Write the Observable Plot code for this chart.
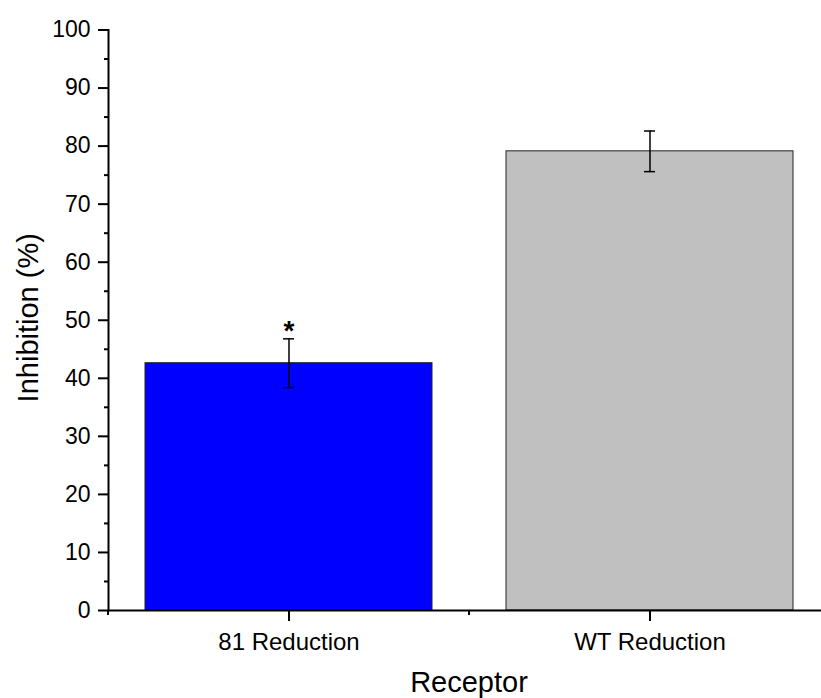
<!DOCTYPE html>
<html>
<head>
<meta charset="utf-8">
<script src="https://cdn.jsdelivr.net/npm/d3@7"></script>
<script src="https://cdn.jsdelivr.net/npm/@observablehq/plot@0.6"></script>
<style>
  html, body { margin: 0; padding: 0; background: #fff; overflow: hidden; }
  #chart svg { display: block; overflow: hidden; }
</style>
</head>
<body>
<div id="chart"></div>
<script>
// ---- data ----
const categories = ["81 Reduction", "WT Reduction"];
const values = [42.6, 79.1];
const errors = [4.2, 3.5];
const barColors = ["#0000ff", "#c0c0c0"];
const significance = ["*", ""];
const yTicks = [0, 10, 20, 30, 40, 50, 60, 70, 80, 90, 100];
const yMinorTicks = [5, 15, 25, 35, 45, 55, 65, 75, 85, 95];
const xLabel = "Receptor";
const yLabel = "Inhibition (%)";

const data = categories.map((c, i) => ({
  cat: c, value: values[i], err: errors[i], color: barColors[i], sig: significance[i]
}));

const font = "'Liberation Sans', Arial, sans-serif";

const chart = Plot.plot({
  width: 821,
  height: 698,
  marginLeft: 108,
  marginRight: 0,
  marginTop: 29.5,
  marginBottom: 88,
  style: { fontFamily: font, color: "#000", background: "#fff" },
  x: { type: "band", domain: categories, range: [108, 830], paddingInner: 0.205, paddingOuter: 0.1025 },
  y: { domain: [0, 100], range: [610, 29.5] },
  marks: [
    Plot.barY(data, { x: "cat", y: "value", fill: "color", stroke: "#222", strokeWidth: 1 }),
    Plot.ruleX(data, { x: "cat", y1: d => d.value - d.err, y2: d => d.value + d.err, stroke: "#000", strokeWidth: 1.5 }),
    Plot.tickY(data, { x: "cat", y: d => d.value - d.err, stroke: "#000", strokeWidth: 1.5, insetLeft: 138, insetRight: 138 }),
    Plot.tickY(data, { x: "cat", y: d => d.value + d.err, stroke: "#000", strokeWidth: 1.5, insetLeft: 138, insetRight: 138 }),
    Plot.text(data, { x: "cat", y: d => d.value + d.err, text: "sig", fontSize: 28, fontWeight: "bold", lineAnchor: "bottom", dy: 1, fill: "#000" }),
    Plot.axisY({ ticks: yTicks, tickSize: 10, tickPadding: 8, fontSize: 23, strokeWidth: 2, label: null, tickFormat: d => String(d) }),
    Plot.axisY({ ticks: yMinorTicks, tickSize: 4, strokeWidth: 2, text: null, label: null }),
    Plot.axisX({ tickSize: 11, tickPadding: 11, fontSize: 24, strokeWidth: 2, label: null }),
    Plot.frame({ anchor: "left", strokeWidth: 2, stroke: "#000" }),
    Plot.ruleY([0], { stroke: "#000", strokeWidth: 2 }),
    Plot.text([yLabel], { frameAnchor: "left", textAnchor: "middle", rotate: -90, dx: -80, dy: -2.5, fontSize: 29, fill: "#000" }),
    Plot.text([xLabel], { frameAnchor: "bottom", lineAnchor: "bottom", dy: 81, dx: 4, fontSize: 29, fill: "#000" })
  ]
});

// minor x ticks at band edges, positioned through the plot's own x scale
const xs = chart.scale("x");
const y0 = chart.scale("y").apply(0);
const gap = (xs.step - xs.bandwidth) / 2;
const edges = categories.map(c => xs.apply(c) - gap);
edges.push(xs.apply(categories[categories.length - 1]) + xs.bandwidth + gap);
d3.select(chart).append("g")
  .attr("stroke", "#000").attr("stroke-width", 2)
  .selectAll("line").data(edges).join("line")
  .attr("x1", d => d).attr("x2", d => d)
  .attr("y1", y0).attr("y2", y0 + 5);

document.getElementById("chart").appendChild(chart);
</script>
</body>
</html>
